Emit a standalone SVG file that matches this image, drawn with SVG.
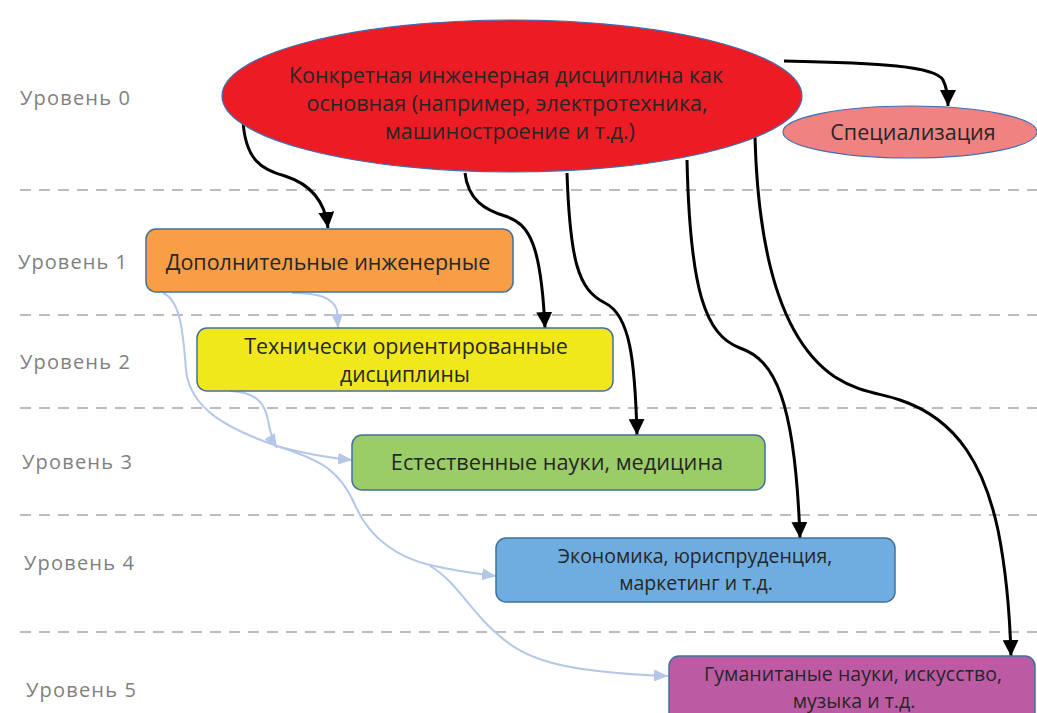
<svg xmlns="http://www.w3.org/2000/svg" width="1037" height="713" viewBox="0 0 1037 713">
<defs>
<style>
.lvl{font-family:"Open Sans","Noto Sans","DejaVu Sans",sans-serif;font-size:20px;fill:#7f7f7f}
.t{font-family:"Open Sans","Noto Sans","DejaVu Sans",sans-serif;fill:#262626;text-anchor:middle}
.dash{stroke:#a6a6a6;stroke-width:1.3;stroke-dasharray:11 8;fill:none}
.box{stroke:#41719c;stroke-width:1.5}
.blk{stroke:#000;stroke-width:3;fill:none;marker-end:url(#ah)}
.blu{stroke:#b4c7e7;stroke-width:2;fill:none;marker-end:url(#bh)}
</style>
<marker id="ah" viewBox="0 0 16 16" refX="16" refY="8" markerWidth="16" markerHeight="16" markerUnits="userSpaceOnUse" orient="auto">
<path d="M0,0 L16,8 L0,16 Z" fill="#000"/>
</marker>
<marker id="bh" viewBox="0 0 14 12" refX="14" refY="6" markerWidth="14" markerHeight="12" markerUnits="userSpaceOnUse" orient="auto">
<path d="M0,0 L14,6 L0,12 Z" fill="#b4c7e7"/>
</marker>
</defs>
<rect width="1037" height="713" fill="#fff"/>
<g id="levels">
<line class="dash" x1="20" y1="190" x2="1037" y2="190"/>
<line class="dash" x1="20" y1="315" x2="1037" y2="315"/>
<line class="dash" x1="20" y1="408" x2="1037" y2="408"/>
<line class="dash" x1="20" y1="515" x2="1037" y2="515"/>
<line class="dash" x1="20" y1="632" x2="1037" y2="632"/>
<text class="lvl" x="20" y="105" textLength="110" lengthAdjust="spacing">Уровень 0</text>
<text class="lvl" x="18" y="269" textLength="109" lengthAdjust="spacing">Уровень 1</text>
<text class="lvl" x="20" y="369" textLength="110" lengthAdjust="spacing">Уровень 2</text>
<text class="lvl" x="22" y="469" textLength="110" lengthAdjust="spacing">Уровень 3</text>
<text class="lvl" x="24" y="570" textLength="110" lengthAdjust="spacing">Уровень 4</text>
<text class="lvl" x="26" y="697" textLength="110" lengthAdjust="spacing">Уровень 5</text>
</g>
<g id="connectors">
<path class="blk" d="M784,61 C880,63 935,66 943,80 C947,88 948,95 948,106"/>
<path class="blk" d="M243,120 C245,160 262,170 285,176 C310,184 325,200 328,228"/>
<path class="blk" d="M465,173 C468,200 485,210 505,216 C530,224 541,245 545,328"/>
<path class="blk" d="M567,173 C570,260 578,290 605,303 C630,315 635,360 637,435"/>
<path class="blk" d="M687,160 C690,290 705,335 740,348 C775,360 795,400 800,538"/>
<path class="blk" d="M755,137 C758,250 780,340 835,377 C860,393 880,393 900,400 C960,420 985,470 998,530 C1006,570 1010,620 1011,656"/>
<path class="blu" d="M292,293 C320,293 333,298 337,310 L338,328"/>
<path class="blu" d="M163,293 C180,300 183,330 186,370 C190,410 230,430 280,447 C310,455 330,458 352,460"/>
<path class="blu" d="M230,391 C258,392 265,405 268,420 C270,432 272,440 277,448"/>
<path class="blu" d="M280,447 C320,460 340,470 355,505 C370,540 400,558 430,565 C460,572 480,574 496,576"/>
<path class="blu" d="M430,566 C455,580 470,610 495,632 C525,660 560,672 668,676"/>
</g>
<g id="n0">
<ellipse cx="512" cy="96" rx="290" ry="76" fill="#ed1c24" stroke="#3f6fb0" stroke-width="1.2"/>
<text class="t" font-size="21.5" x="506" y="83">Конкретная инженерная дисциплина как</text>
<text class="t" font-size="21.5" x="507" y="111">основная (например, электротехника,</text>
<text class="t" font-size="21.5" x="510" y="139">машиностроение и т.д.)</text>
</g>
<g id="spec">
<ellipse cx="910" cy="132" rx="127" ry="26" fill="#f08282" stroke="#3f6fb0" stroke-width="1.2"/>
<text class="t" font-size="21.5" x="913" y="140">Специализация</text>
</g>
<g id="n1">
<rect class="box" x="146" y="229" width="367" height="63" rx="10" fill="#f79e47"/>
<text class="t" font-size="21.5" x="328" y="270">Дополнительные инженерные</text>
</g>
<g id="n2">
<rect class="box" x="197" y="328" width="416" height="63" rx="10" fill="#f1e81b"/>
<text class="t" font-size="21.5" x="406" y="354">Технически ориентированные</text>
<text class="t" font-size="21" x="405" y="382">дисциплины</text>
</g>
<g id="n3">
<rect class="box" x="352" y="435" width="413" height="55" rx="10" fill="#9acc68"/>
<text class="t" font-size="21.7" x="557" y="470">Естественные науки, медицина</text>
</g>
<g id="n4">
<rect class="box" x="496" y="538" width="399" height="64" rx="10" fill="#6fade0"/>
<text class="t" font-size="19.5" x="695" y="563">Экономика, юриспруденция,</text>
<text class="t" font-size="19.5" x="696" y="590">маркетинг и т.д.</text>
</g>
<g id="n5">
<rect class="box" x="669" y="656" width="366" height="70" rx="10" fill="#bc5ba4"/>
<text class="t" font-size="19.5" x="853" y="681" textLength="298" lengthAdjust="spacing">Гуманитаные науки, искусство,</text>
<text class="t" font-size="19.5" x="854" y="708">музыка и т.д.</text>
</g>
</svg>
